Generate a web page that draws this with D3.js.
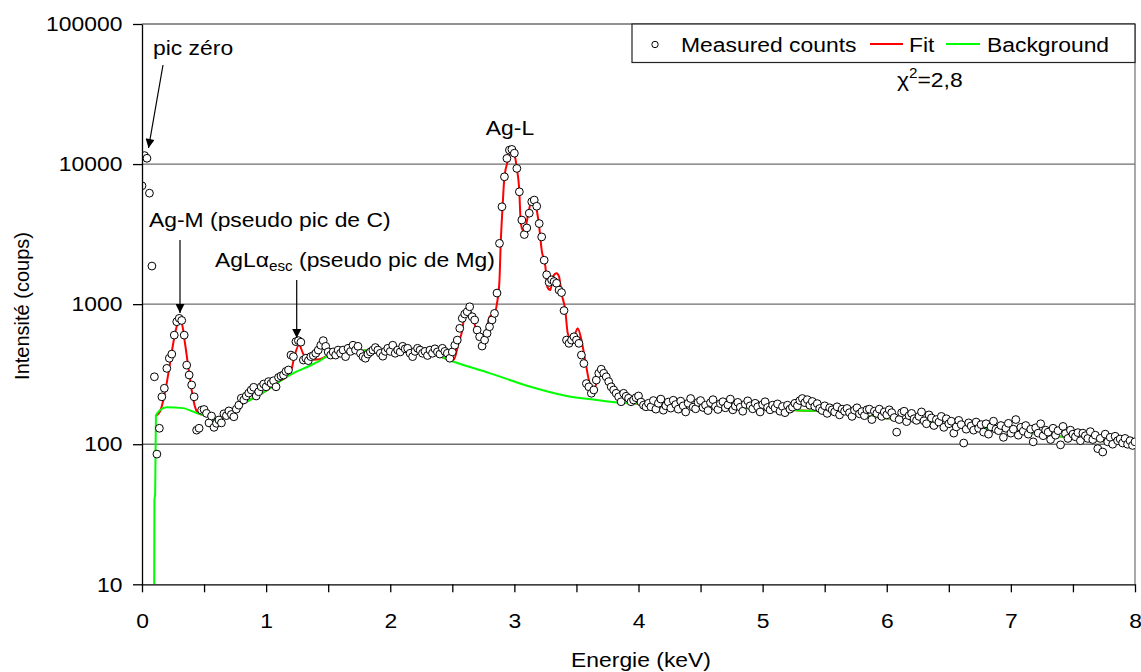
<!DOCTYPE html>
<html>
<head>
<meta charset="utf-8">
<script src="https://cdn.jsdelivr.net/npm/d3@7"></script>
<style>
  body { margin: 0; background: #fff; }
  text { font-family: Arial, "Liberation Sans", sans-serif; fill: #000; }
</style>
</head>
<body>
<div id="chart"></div>
<script>
// spectrum channels: 0.02 keV step starting at 0 keV
var energyStart = 0, energyStep = 0.02;

// measured counts, one per channel
var counts = [
  7000, 11500, 11000, 6200, 1870, 303, 85, 130, 218, 251,
  348, 411, 440, 601, 749, 792, 765, 601, 367, 312,
  265, 218, 126, 130, 175, 177, 166, 142, 159, 132,
  141, 149, 142, 165, 160,
  173, 163, 157, 178, 190, 213, 207, 221, 232, 244,
  255, 221, 237, 257, 269, 257, 280, 272, 284, 257,
  300, 307, 312, 331, 339, 433, 422, 540, 549, 535,
  399, 411, 395, 422, 430, 446, 470, 509, 549, 500,
  456, 433,
  456, 433, 470, 446, 470, 422, 484, 460, 509, 470,
  500, 446, 422, 411, 440, 456, 470, 490, 470, 446,
  425, 460, 484, 460, 509, 446, 470, 456, 500, 480,
  484, 446, 422, 460, 484, 470, 446, 460, 430, 470,
  446, 480, 456, 440,
  484, 460, 446, 411, 456, 509, 554, 672, 792, 850,
  883, 958, 813, 771, 653, 585, 502, 554, 619, 690,
  771, 859, 1200, 2716, 4958, 8113, 10980, 12590, 12730, 11960,
  9310, 6340, 3985, 3140, 3500, 4460, 5383, 5534, 5000, 3760,
  3020, 2060, 1620, 1430, 1490, 1450, 1410, 1260, 1210, 900,
  554, 525, 554, 585, 554, 525, 433, 377, 271, 257,
  231, 244, 287, 321, 343, 321, 303, 280, 257, 244,
  231, 218, 201, 231, 220, 213, 201, 207, 215, 221,
  200, 190, 185, 196,
  185, 205, 178, 196, 210, 175, 188, 200, 181, 206,
  192, 178, 203, 188, 170, 196, 212, 184, 179, 199,
  205, 183, 190, 174, 198, 208, 186, 177, 195, 201,
  182, 191, 210, 176, 187, 199, 184, 172, 193, 204,
  188, 179, 196, 185, 170, 192, 201, 183, 176, 190,
  181, 194, 172, 186, 168, 190, 178, 184, 196, 188,
  205, 212, 198, 208, 190, 202, 186, 195, 180, 174,
  188, 166, 182, 176, 170, 185, 162, 178, 172, 180,
  168, 158, 175, 182, 165, 171, 160, 176, 178, 150,
  172, 166, 178, 158, 170, 162, 176, 168, 155, 122,
  150, 168, 172, 145, 160, 166, 152, 148, 158, 170,
  147, 140, 162, 154, 136, 150, 144, 158, 132, 152,
  140, 146, 120, 133, 148, 138, 102, 128, 142, 135,
  126, 144, 130, 138, 122, 140, 118, 133, 146, 128,
  125, 136, 112, 130, 141, 120, 128, 150, 116, 132,
  124, 136, 118, 128, 104, 131, 120, 140, 115, 126,
  122, 108, 130, 116, 125, 99, 134, 119, 110, 126,
  118, 113, 121, 106, 120, 115, 110, 123, 108, 116,
  93, 110, 88, 118, 104, 112, 100, 114, 106, 109,
  102, 110, 100, 106, 98, 104
];

// fit curve (red)
var fitEnergy = [0.112, 0.145, 0.172, 0.199, 0.226, 0.252, 0.279, 0.300, 0.320, 0.346,
  0.373, 0.400, 0.427, 0.454, 0.52, 0.59, 0.65, 0.79, 0.90, 1.01,
  1.11, 1.17, 1.20, 1.23, 1.265, 1.30, 1.34, 1.43, 1.51, 1.70,
  1.94, 2.15, 2.32, 2.51, 2.55, 2.58, 2.60, 2.63, 2.67, 2.71,
  2.74, 2.78, 2.80, 2.84, 2.86, 2.88, 2.89, 2.905, 2.92, 2.95,
  2.98, 3.005, 3.02, 3.04, 3.05, 3.065, 3.09, 3.11, 3.14, 3.16,
  3.18, 3.20, 3.22, 3.25, 3.265, 3.29, 3.31, 3.34, 3.36, 3.38,
  3.41, 3.43, 3.46, 3.49, 3.51, 3.54, 3.57, 3.60, 3.62, 3.65,
  3.68, 3.70, 3.74, 3.80, 3.85, 3.90, 4.2, 4.6, 5.0, 5.27,
  5.62, 5.89, 6.19, 6.62, 7.0, 7.42, 7.70, 8.0];
var fitCounts = [160, 171, 207, 273, 380, 528, 690, 749, 729, 528,
  357, 244, 185, 166, 160, 151, 158, 190, 214, 244,
  282, 305, 330, 430, 511, 440, 400, 405, 434, 460,
  470, 465, 448, 399, 525, 653, 859, 958, 771, 585,
  554, 690, 813, 859, 1014, 1487, 2716, 4958, 8113, 10680,
  12590, 11270, 9310, 6340, 3985, 3383, 3567, 4323, 5534, 5383,
  4698, 3567, 2433, 1849, 1331, 1261, 1570, 1660, 1570, 1194,
  908, 619, 554, 619, 672, 554, 399, 287, 244, 257,
  303, 339, 321, 244, 201, 197, 193, 186, 180, 175,
  170, 157, 147, 133, 125, 113, 106, 100];

// background curve (green)
var bgEnergy = [0.098, 0.100, 0.106, 0.112, 0.15, 0.20, 0.33, 0.44, 0.52, 0.59,
  0.65, 0.79, 0.90, 1.01, 1.11, 1.22, 1.33, 1.43, 1.51, 1.70,
  1.94, 2.15, 2.32, 2.51, 2.80, 3.13, 3.42, 3.66, 3.85, 4.2,
  4.6, 5.0, 5.27, 5.62, 5.89, 6.19, 6.62, 7.0, 7.42, 7.70, 8.0];
var bgCounts = [8, 40, 44, 160, 176, 184, 181, 167, 160, 151,
  158, 190, 214, 244, 282, 322, 356, 393, 434, 460,
  470, 465, 448, 388, 322, 257, 221, 207, 198, 193,
  186, 180, 175, 170, 157, 147, 133, 125, 113, 106, 100];

var xTicks = [0, 0.5, 1, 1.5, 2, 2.5, 3, 3.5, 4, 4.5, 5, 5.5, 6, 6.5, 7, 7.5, 8];
var yTicks = [10, 100, 1000, 10000, 100000];

var make_chart = function () {
    var width = 1141, height = 672;
    var pLeft = 142, pRight = 1135, pTop = 24, pBottom = 584.3;
    var sx = 1.09; // text is a bit wide in the picture

    var x = d3.scaleLinear().domain([0, 8]).range([pLeft, pRight]);
    var y = d3.scaleLog().domain([10, 100000]).range([pBottom, pTop]);

    var svg = d3.select("#chart").append("svg")
        .attr("width", width)
        .attr("height", height);

    var defs = svg.append("defs");
    defs.append("clipPath").attr("id", "plotclip")
        .append("rect")
        .attr("x", pLeft).attr("y", pTop)
        .attr("width", pRight - pLeft).attr("height", pBottom - pTop);
    defs.append("marker")
        .attr("id", "arrow")
        .attr("viewBox", "0 0 10 10")
        .attr("refX", 10).attr("refY", 5)
        .attr("markerUnits", "userSpaceOnUse")
        .attr("markerWidth", 10).attr("markerHeight", 9)
        .attr("orient", "auto")
        .append("path").attr("d", "M0,0 L10,5 L0,10 z").attr("fill", "#000");

    // gridlines + frame
    svg.selectAll("line.grid")
        .data(yTicks.slice(1))
        .enter().append("line")
        .attr("class", "grid")
        .attr("x1", pLeft).attr("x2", pRight)
        .attr("y1", function(d) { return y(d); })
        .attr("y2", function(d) { return y(d); })
        .attr("stroke", "#6e6e6e").attr("stroke-width", 1.3);
    svg.append("line")
        .attr("x1", pRight).attr("x2", pRight)
        .attr("y1", pTop).attr("y2", pBottom)
        .attr("stroke", "#7a7a7a").attr("stroke-width", 1.3);

    var plot = svg.append("g").attr("clip-path", "url(#plotclip)");

    var fitLine = d3.line()
        .x(function(d, i) { return x(fitEnergy[i]); })
        .y(function(d) { return y(d); })
        .curve(d3.curveMonotoneX);
    var bgLine = d3.line()
        .x(function(d, i) { return x(bgEnergy[i]); })
        .y(function(d) { return y(d); })
        .curve(d3.curveMonotoneX);

    plot.append("path").datum(fitCounts)
        .attr("d", fitLine)
        .attr("fill", "none").attr("stroke", "#ff0000").attr("stroke-width", 2);
    plot.append("path").datum(bgCounts)
        .attr("d", bgLine)
        .attr("fill", "none").attr("stroke", "#00ff00").attr("stroke-width", 2);

    plot.selectAll("circle.pt")
        .data(counts)
        .enter().append("circle")
        .attr("class", "pt")
        .attr("cx", function(d, i) { return x(energyStart + i * energyStep); })
        .attr("cy", function(d) { return y(d); })
        .attr("r", 3.9)
        .attr("fill", "#fff")
        .attr("stroke", "#000")
        .attr("stroke-width", 1);

    // axes
    var xAxis = d3.axisBottom(x)
        .tickValues(xTicks)
        .tickSize(8).tickSizeOuter(0).tickPadding(20.5)
        .tickFormat(function(d) { return d % 1 === 0 ? d : ""; });
    var gx = svg.append("g")
        .attr("transform", "translate(0," + pBottom + ")")
        .call(xAxis);

    var yAxis = d3.axisLeft(y)
        .tickValues(yTicks)
        .tickSize(9).tickSizeOuter(0).tickPadding(9)
        .tickFormat(d3.format("d"));
    var gy = svg.append("g")
        .attr("transform", "translate(" + pLeft + ",0)")
        .call(yAxis);

    [gx, gy].forEach(function(g) {
        g.attr("font-size", 21).attr("font-family", "Arial, 'Liberation Sans', sans-serif");
        g.selectAll("path, line").attr("stroke", "#000").attr("stroke-width", 1.3);
        g.selectAll("text").attr("fill", "#000")
            .attr("transform", "scale(" + sx + ",1)");
    });

    // helper for stretched labels
    function label(px, py, anchor) {
        return svg.append("text")
            .attr("transform", "translate(" + px + "," + py + ") scale(" + sx + ",1)")
            .attr("text-anchor", anchor || "start")
            .attr("font-size", 21);
    }

    label(641, 667, "middle").text("Energie (keV)");
    svg.append("text")
        .attr("transform", "translate(29,306) rotate(-90)")
        .attr("text-anchor", "middle")
        .attr("font-size", 20)
        .text("Intensité (coups)");

    // annotations
    label(153, 55).text("pic zéro");
    svg.append("line")
        .attr("x1", 163).attr("y1", 65).attr("x2", 148.5).attr("y2", 148)
        .attr("stroke", "#000").attr("stroke-width", 1.2)
        .attr("marker-end", "url(#arrow)");

    label(149, 227).text("Ag-M (pseudo pic de C)");
    svg.append("line")
        .attr("x1", 180).attr("y1", 240).attr("x2", 180).attr("y2", 313)
        .attr("stroke", "#000").attr("stroke-width", 1.2)
        .attr("marker-end", "url(#arrow)");

    var esc = label(215, 267);
    esc.append("tspan").text("AgLα");
    esc.append("tspan").attr("font-size", 14).attr("dy", 4).text("esc");
    esc.append("tspan").attr("dy", -4).text(" (pseudo pic de Mg)");
    svg.append("line")
        .attr("x1", 296.7).attr("y1", 280).attr("x2", 296.7).attr("y2", 338)
        .attr("stroke", "#000").attr("stroke-width", 1.2)
        .attr("marker-end", "url(#arrow)");

    label(510, 135, "middle").text("Ag-L");

    var chi = label(897, 87);
    chi.append("tspan").text("χ");
    chi.append("tspan").attr("font-size", 14).attr("dy", -9).text("2");
    chi.append("tspan").attr("dy", 9).text("=2,8");

    // legend
    var lg = svg.append("g");
    lg.append("rect")
        .attr("x", 632).attr("y", pTop)
        .attr("width", pRight - 632).attr("height", 38.5)
        .attr("fill", "#fff").attr("stroke", "#222").attr("stroke-width", 1.2);
    lg.append("circle")
        .attr("cx", 655).attr("cy", 44.5).attr("r", 3.2)
        .attr("fill", "#fff").attr("stroke", "#000").attr("stroke-width", 1);
    label(681, 52).text("Measured counts");
    lg.append("line").attr("x1", 870).attr("x2", 903).attr("y1", 44).attr("y2", 44)
        .attr("stroke", "#ff0000").attr("stroke-width", 2);
    label(909, 52).text("Fit");
    lg.append("line").attr("x1", 946).attr("x2", 980).attr("y1", 44).attr("y2", 44)
        .attr("stroke", "#00ff00").attr("stroke-width", 2);
    label(987, 52).text("Background");
};

make_chart();
</script>
</body>
</html>
